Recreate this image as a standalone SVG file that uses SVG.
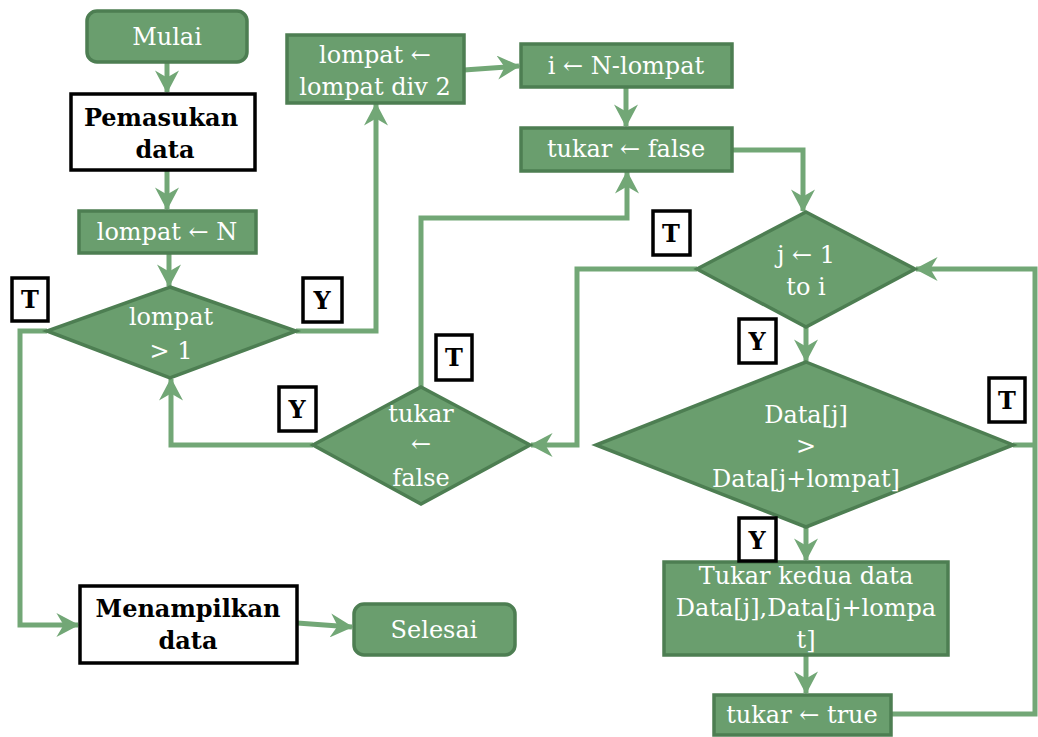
<svg xmlns="http://www.w3.org/2000/svg" width="1038" height="737" viewBox="0 0 1038 737">
<style>
.n{fill:#6a9e6e;stroke:#4d7e52;stroke-width:3.5}
.w{fill:#ffffff;stroke:#000000;stroke-width:3.5}
.t{font-family:"DejaVu Serif","Liberation Serif",serif;font-size:24px;fill:#ffffff;text-anchor:middle}
.b{font-family:"DejaVu Serif","Liberation Serif",serif;font-size:24px;font-weight:bold;fill:#000000;text-anchor:middle}
.l{font-family:"DejaVu Serif","Liberation Serif",serif;font-size:24px;font-weight:bold;fill:#000000;text-anchor:middle}
.c{fill:none;stroke:#72a776;stroke-width:5;stroke-linejoin:miter}
</style>
<defs>
<marker id="ah" markerUnits="userSpaceOnUse" markerWidth="24" markerHeight="24" viewBox="0 0 20 20" refX="18" refY="10" orient="auto">
<path d="M0,0 L19,10 L0,20 L6,10 z" fill="#72a776"/>
</marker>
</defs>
<rect width="1038" height="737" fill="#ffffff"/>
<g id="connectors">
<path class="c" d="M167,62 V92" marker-end="url(#ah)"/>
<path class="c" d="M167,170 V209" marker-end="url(#ah)"/>
<path class="c" d="M169,253 V286" marker-end="url(#ah)"/>
<path class="c" d="M296,331 H376 V104" marker-end="url(#ah)"/>
<path class="c" d="M464,70 L519,66" marker-end="url(#ah)"/>
<path class="c" d="M626,87 V126" marker-end="url(#ah)"/>
<path class="c" d="M732,150 H803 V211" marker-end="url(#ah)"/>
<path class="c" d="M421,387 V218 H627 V172" marker-end="url(#ah)"/>
<path class="c" d="M313,445 H171 V379" marker-end="url(#ah)"/>
<path class="c" d="M697,269 H577 V445 H531" marker-end="url(#ah)"/>
<path class="c" d="M806,327 V361" marker-end="url(#ah)"/>
<path class="c" d="M1013,445 H1036"/>
<path class="c" d="M806,527 V560" marker-end="url(#ah)"/>
<path class="c" d="M806,655 V693" marker-end="url(#ah)"/>
<path class="c" d="M891,714 H1035 V269 H916" marker-end="url(#ah)"/>
<path class="c" d="M47,331 H20 V625 H78" marker-end="url(#ah)"/>
<path class="c" d="M297,623 L352,627" marker-end="url(#ah)"/>
</g>
<g id="mulai"><rect class="n" x="87" y="11" width="160" height="51" rx="10"/><text class="t" x="167" y="45">Mulai</text></g>
<g id="pemasukan"><rect class="w" x="71" y="94" width="184" height="76"/><text class="b" x="161" y="126">Pemasukan</text><text class="b" x="165" y="158">data</text></g>
<g id="lompatN"><rect class="n" x="79" y="211" width="177" height="42"/><text class="t" x="167" y="240">lompat ← N</text></g>
<g id="cekLompat"><polygon class="n" points="170,287 296,331 170,378 47,331"/><text class="t" x="171" y="325">lompat</text><text class="t" x="171" y="359">&gt; 1</text></g>
<g id="lompatDiv"><rect class="n" x="287" y="35" width="177" height="68"/><text class="t" x="375" y="63">lompat ←</text><text class="t" x="375" y="95">lompat div 2</text></g>
<g id="iN"><rect class="n" x="521" y="44" width="211" height="43"/><text class="t" x="626" y="74">i ← N-lompat</text></g>
<g id="tukarFalse"><rect class="n" x="521" y="128" width="211" height="43"/><text class="t" x="626" y="157">tukar ← false</text></g>
<g id="cekTukar"><polygon class="n" points="421,387 530,445 421,504 313,445"/><text class="t" x="421" y="422">tukar</text><text class="t" x="421" y="452">←</text><text class="t" x="421" y="486">false</text></g>
<g id="loopJ"><polygon class="n" points="806,212 915,269 806,327 697,269"/><text class="t" x="806" y="263">j ← 1</text><text class="t" x="806" y="295">to i</text></g>
<g id="cekData"><polygon class="n" points="806,362 1013,445 806,527 596,445"/><text class="t" x="806" y="423">Data[j]</text><text class="t" x="806" y="454">&gt;</text><text class="t" x="806" y="487">Data[j+lompat]</text></g>
<g id="tukarData"><rect class="n" x="664" y="562" width="284" height="93"/><text class="t" x="806" y="584">Tukar kedua data</text><text class="t" x="806" y="616">Data[j],Data[j+lompa</text><text class="t" x="806" y="648">t]</text></g>
<g id="tukarTrue"><rect class="n" x="714" y="695" width="177" height="40"/><text class="t" x="802" y="723">tukar ← true</text></g>
<g id="menampilkan"><rect class="w" x="80" y="586" width="217" height="77"/><text class="b" x="188" y="617">Menampilkan</text><text class="b" x="188" y="649">data</text></g>
<g id="selesai"><rect class="n" x="354" y="604" width="161" height="51" rx="10"/><text class="t" x="434" y="638">Selesai</text></g>
<g id="labels">
<rect class="w" x="12" y="278" width="36" height="43"/><text class="l" x="30" y="308">T</text>
<rect class="w" x="303" y="278" width="39" height="44"/><text class="l" x="322" y="309">Y</text>
<rect class="w" x="279" y="387" width="37" height="44"/><text class="l" x="297" y="418">Y</text>
<rect class="w" x="436" y="335" width="36" height="45"/><text class="l" x="454" y="366">T</text>
<rect class="w" x="653" y="211" width="37" height="44"/><text class="l" x="671" y="242">T</text>
<rect class="w" x="739" y="319" width="37" height="44"/><text class="l" x="757" y="350">Y</text>
<rect class="w" x="989" y="378" width="36" height="44"/><text class="l" x="1007" y="409">T</text>
<rect class="w" x="739" y="518" width="37" height="43"/><text class="l" x="757" y="549">Y</text>
</g>
</svg>
